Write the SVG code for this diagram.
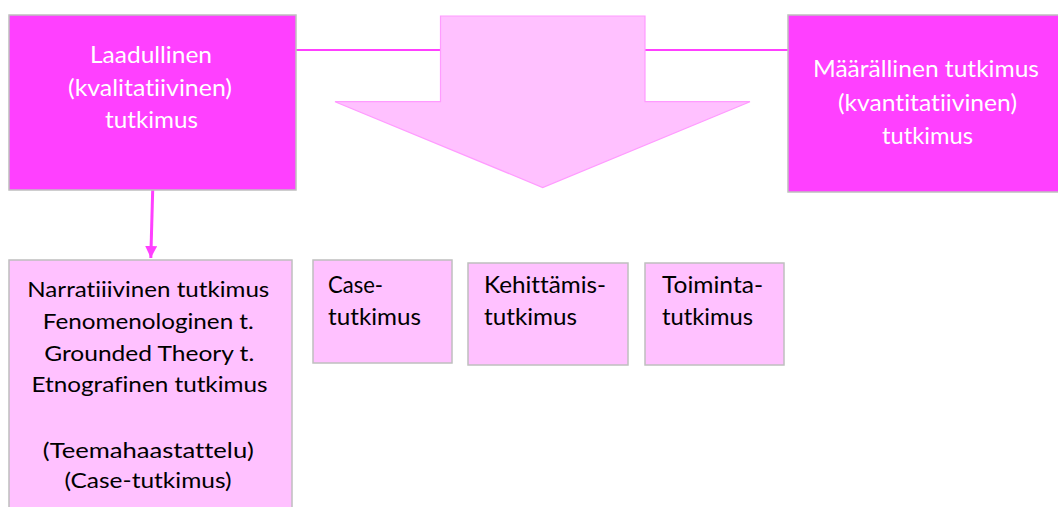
<svg xmlns="http://www.w3.org/2000/svg" width="1058" height="507" viewBox="0 0 1058 507">
<defs>
<style>
.main{fill:#FF40FF;stroke:#BFBFBF;stroke-width:1.5}
.sub{fill:#FFC1FF;stroke:#BFBFBF;stroke-width:1.5}
text{font-variant-ligatures:none;font-feature-settings:"liga" 0,"clig" 0,"dlig" 0}
.tw{font-family:Lato,"Liberation Sans",sans-serif;font-size:23px;fill:#FFFFFF;text-anchor:middle}
.tb{font-family:Lato,"Liberation Sans",sans-serif;font-size:21px;fill:#000000;text-anchor:middle}
.ts{font-family:Lato,"Liberation Sans",sans-serif;font-size:23px;fill:#000000}
.conn{stroke:#FF40FF;fill:none}
</style>
<marker id="ah" viewBox="0 0 12 12" refX="12" refY="6" markerWidth="12" markerHeight="12" markerUnits="userSpaceOnUse" orient="auto">
<path d="M0,0 L12,6 L0,12 Z" fill="#FF40FF"/>
</marker>
</defs>
<g id="connectors">
<line class="conn" x1="296" y1="50" x2="788" y2="50" stroke-width="2"/>
<line class="conn" x1="152.7" y1="190" x2="150.8" y2="258" stroke-width="3" marker-end="url(#ah)"/>
</g>
<g id="arrow">
<polygon points="440.5,16 645,16 645,101.7 750,101.7 542.7,187.5 335,101.7 440.5,101.7" fill="#FFC1FF" stroke="#FF9BFF" stroke-width="1.2"/>
</g>
<g id="node-laadullinen">
<rect class="main" x="9" y="15" width="287" height="175"/>
<text class="tw" x="151" y="63" textLength="122" lengthAdjust="spacingAndGlyphs">Laadullinen</text>
<text class="tw" x="150" y="96" textLength="164" lengthAdjust="spacingAndGlyphs">(kvalitatiivinen)</text>
<text class="tw" x="151.5" y="128" textLength="93" lengthAdjust="spacingAndGlyphs">tutkimus</text>
</g>
<g id="node-maarallinen">
<rect class="main" x="788" y="15" width="278" height="177"/>
<text class="tw" x="926" y="77" textLength="226" lengthAdjust="spacingAndGlyphs">Määrällinen tutkimus</text>
<text class="tw" x="927.5" y="111" textLength="179" lengthAdjust="spacingAndGlyphs">(kvantitatiivinen)</text>
<text class="tw" x="927.5" y="144" textLength="91" lengthAdjust="spacingAndGlyphs">tutkimus</text>
</g>
<g id="node-laadulliset-menetelmat">
<rect class="sub" x="9" y="260" width="283" height="260"/>
<text class="tb" x="148.3" y="297" textLength="242" lengthAdjust="spacingAndGlyphs">Narratiiivinen tutkimus</text>
<text class="tb" x="148.3" y="329" textLength="211" lengthAdjust="spacingAndGlyphs">Fenomenologinen t.</text>
<text class="tb" x="149.2" y="361" textLength="210" lengthAdjust="spacingAndGlyphs">Grounded Theory t.</text>
<text class="tb" x="149.5" y="392" textLength="236" lengthAdjust="spacingAndGlyphs">Etnografinen tutkimus</text>
<text class="tb" x="148.3" y="458" textLength="211" lengthAdjust="spacingAndGlyphs">(Teemahaastattelu)</text>
<text class="tb" x="148" y="488" textLength="167" lengthAdjust="spacingAndGlyphs">(Case-tutkimus)</text>
</g>
<g id="node-case">
<rect class="sub" x="313" y="260" width="139" height="103"/>
<text class="ts" x="328" y="293" textLength="55" lengthAdjust="spacingAndGlyphs">Case-</text>
<text class="ts" x="328" y="325" textLength="93" lengthAdjust="spacingAndGlyphs">tutkimus</text>
</g>
<g id="node-kehittamis">
<rect class="sub" x="468" y="263" width="160" height="102"/>
<text class="ts" x="484" y="293" textLength="122" lengthAdjust="spacingAndGlyphs">Kehittämis-</text>
<text class="ts" x="484" y="325" textLength="93" lengthAdjust="spacingAndGlyphs">tutkimus</text>
</g>
<g id="node-toiminta">
<rect class="sub" x="645" y="263" width="139" height="102"/>
<text class="ts" x="662" y="293" textLength="101" lengthAdjust="spacingAndGlyphs">Toiminta-</text>
<text class="ts" x="662" y="325" textLength="91" lengthAdjust="spacingAndGlyphs">tutkimus</text>
</g>
</svg>
